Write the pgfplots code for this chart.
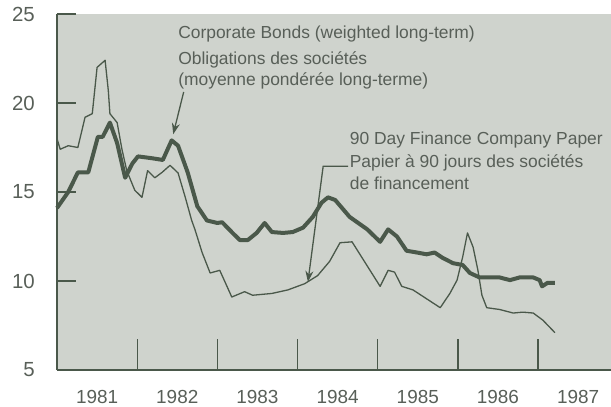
\documentclass[border=0pt]{standalone}
\usepackage{fontspec}
\setmainfont{Liberation Sans}
\usepackage{pgfplots}
\pgfplotsset{compat=1.18}
\usetikzlibrary{arrows.meta}
\definecolor{bgc}{RGB}{207,211,205}
\definecolor{lnc}{RGB}{74,88,74}
\definecolor{txc}{RGB}{88,95,88}
\begin{document}
\begin{tikzpicture}
\begin{axis}[name=ax, at={(0,0)}, anchor=south west,
 scale only axis, width=554bp, height=356bp,
 xmin=1981, xmax=1987.91, ymin=5, ymax=25,
 axis x line*=bottom, axis y line*=left,
 axis line style={lnc, line width=1.3bp},
 axis background/.style={fill=bgc},
 tick align=inside,
 major tick length=31bp,
 xtick={1982,1983,1984,1985,1986,1987}, xticklabels={},
 ytick=\empty,
 extra x ticks={1981.5,1982.5,1983.5,1984.5,1985.5,1986.5,1987.5},
 extra x tick labels={1981,1982,1983,1984,1985,1986,1987},
 extra x tick style={major tick length=0pt},
 extra y ticks={5,10,15,20,25},
 extra y tick style={major tick length=19bp},
 tick style={lnc, line width=1.3bp},
 tick label style={font=\fontsize{19}{19}\selectfont, text=txc},
 xticklabel style={anchor=north, inner sep=0pt, yshift=-20bp},
 yticklabel style={anchor=east, inner sep=0pt, xshift=-22bp, font=\fontsize{20.5}{20.5}\selectfont},
 /pgf/number format/assume math mode=true,
 clip=false,
]
% 90 Day Finance Company Paper (thin)
\addplot[lnc, line width=1.3bp, line join=round] coordinates {
(1981.00,18.0) (1981.04,17.4) (1981.14,17.6) (1981.26,17.5) (1981.35,19.2)
(1981.44,19.4) (1981.50,22.0) (1981.60,22.4) (1981.64,20.7) (1981.66,19.4)
(1981.75,18.9) (1981.81,17.4) (1981.87,16.2) (1981.97,15.1) (1982.06,14.7)
(1982.13,16.2) (1982.22,15.8) (1982.31,16.1) (1982.41,16.5) (1982.51,16.07)
(1982.60,14.7) (1982.68,13.4) (1982.72,12.9) (1982.81,11.6) (1982.91,10.45)
(1983.03,10.6) (1983.18,9.1) (1983.34,9.4) (1983.44,9.2) (1983.68,9.3)
(1983.88,9.5) (1984.09,9.85) (1984.25,10.3) (1984.40,11.1) (1984.53,12.15)
(1984.68,12.2) (1984.82,11.2) (1985.03,9.7) (1985.13,10.6) (1985.21,10.5)
(1985.30,9.7) (1985.44,9.5) (1985.61,9.0) (1985.78,8.5) (1985.90,9.3)
(1985.99,10.05) (1986.06,11.35) (1986.12,12.7) (1986.19,11.9) (1986.25,10.6)
(1986.30,9.2) (1986.36,8.5) (1986.52,8.4) (1986.69,8.2) (1986.81,8.25)
(1986.94,8.2) (1987.06,7.8) (1987.21,7.1)
};
% Corporate Bonds (thick)
\addplot[lnc, line width=4bp, line join=round] coordinates {
(1981.00,14.1) (1981.14,15.0) (1981.26,16.1) (1981.39,16.1) (1981.51,18.1)
(1981.57,18.1) (1981.66,18.9) (1981.75,17.75) (1981.85,15.8) (1981.94,16.6)
(1982.01,17.0) (1982.18,16.9) (1982.32,16.8) (1982.43,17.9) (1982.51,17.6)
(1982.63,16.1) (1982.75,14.2) (1982.87,13.4) (1983.00,13.26) (1983.06,13.3)
(1983.19,12.7) (1983.28,12.3) (1983.38,12.3) (1983.49,12.7) (1983.59,13.26)
(1983.68,12.75) (1983.82,12.7) (1983.94,12.75) (1984.07,13.0) (1984.19,13.6)
(1984.30,14.4) (1984.38,14.7) (1984.47,14.55) (1984.65,13.6) (1984.87,12.9)
(1985.03,12.2) (1985.13,12.9) (1985.24,12.5) (1985.36,11.7) (1985.49,11.6)
(1985.61,11.5) (1985.71,11.6) (1985.81,11.3) (1985.94,11.0) (1986.06,10.9)
(1986.15,10.45) (1986.27,10.2) (1986.40,10.2) (1986.52,10.2) (1986.65,10.05)
(1986.77,10.2) (1986.94,10.2) (1987.02,10.05) (1987.05,9.7) (1987.12,9.9)
(1987.21,9.9)
};
\begin{scope}[every node/.style={anchor=west, inner sep=0pt, text=txc, font=\fontsize{17.5}{17.5}\selectfont}]
\node at (axis cs:1982.51,23.85) {Corporate Bonds (weighted long-term)};
\node at (axis cs:1982.51,22.42) {Obligations des sociétés};
\node at (axis cs:1982.51,21.24) {(moyenne pondérée long-terme)};
\node at (axis cs:1984.65,17.92) {90 Day Finance Company Paper};
\node at (axis cs:1984.65,16.63) {Papier à 90 jours des sociétés};
\node at (axis cs:1984.65,15.50) {de financement};
\end{scope}
\draw[lnc, line width=1.3bp, -{Stealth[length=11bp,width=8bp]}] (axis cs:1982.58,20.62) -- (axis cs:1982.45,18.25);
\draw[lnc, line width=1.3bp, -{Stealth[length=11bp,width=8bp]}] (axis cs:1984.63,16.45) -- (axis cs:1984.32,16.45) -- (axis cs:1984.13,9.95);
\end{axis}
\pgfresetboundingbox
\path[use as bounding box] (-57bp,-37bp) rectangle (554bp,370bp);
\end{tikzpicture}
\end{document}
